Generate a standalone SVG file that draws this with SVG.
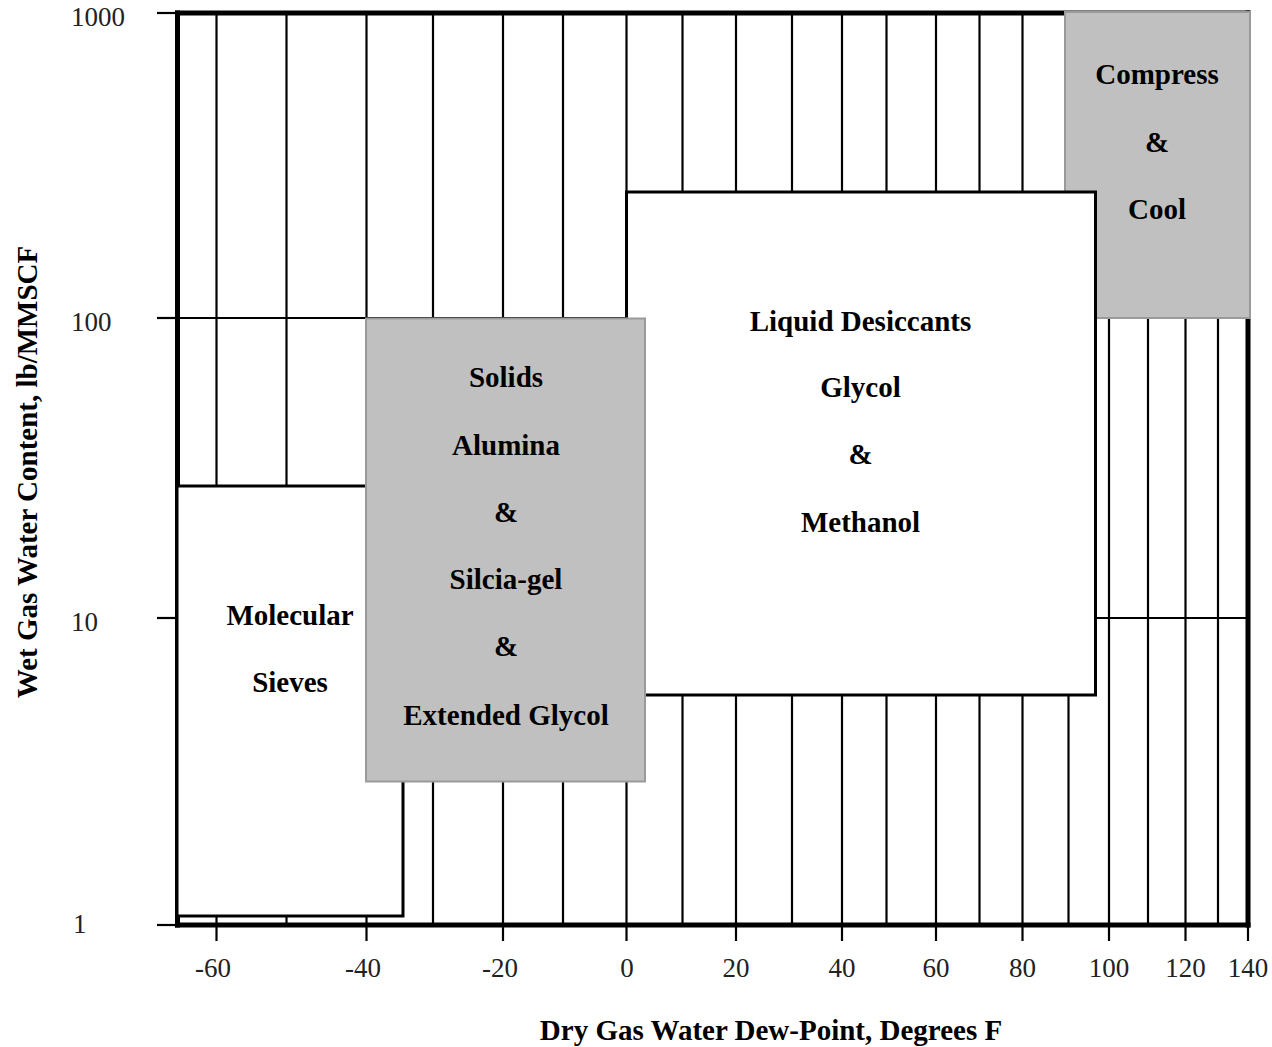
<svg xmlns="http://www.w3.org/2000/svg" width="1272" height="1047" viewBox="0 0 1272 1047">
<style>
.grid{stroke:#000;stroke-width:2.2;fill:none}
.frame{stroke:#000;stroke-width:5;fill:none;stroke-linecap:square}
.tick{stroke:#000;stroke-width:2.2}
.wbox{fill:#fff;stroke:#000;stroke-width:3}
.gbox{fill:#c0c0c0;stroke:#9a9a9a;stroke-width:2}
.lbl{font-family:"Liberation Serif","Times New Roman",serif;font-weight:bold;font-size:29px;fill:#000;text-anchor:middle}
.num{font-family:"Liberation Serif","Times New Roman",serif;font-size:27px;fill:#222}
.xn{text-anchor:middle}
</style>
<rect width="1272" height="1047" fill="#fff"/>
<g id="connectors">
<g id="vgrid" class="grid">
<line x1="216.5" y1="13" x2="216.5" y2="925"/>
<line x1="286.5" y1="13" x2="286.5" y2="925"/>
<line x1="366.5" y1="13" x2="366.5" y2="925"/>
<line x1="433" y1="13" x2="433" y2="925"/>
<line x1="503" y1="13" x2="503" y2="925"/>
<line x1="563" y1="13" x2="563" y2="925"/>
<line x1="626.5" y1="13" x2="626.5" y2="925"/>
<line x1="682.5" y1="13" x2="682.5" y2="925"/>
<line x1="736" y1="13" x2="736" y2="925"/>
<line x1="792" y1="13" x2="792" y2="925"/>
<line x1="842" y1="13" x2="842" y2="925"/>
<line x1="886.5" y1="13" x2="886.5" y2="925"/>
<line x1="936" y1="13" x2="936" y2="925"/>
<line x1="979.5" y1="13" x2="979.5" y2="925"/>
<line x1="1022.5" y1="13" x2="1022.5" y2="925"/>
<line x1="1068.5" y1="13" x2="1068.5" y2="925"/>
<line x1="1109" y1="13" x2="1109" y2="925"/>
<line x1="1148" y1="13" x2="1148" y2="925"/>
<line x1="1185.5" y1="13" x2="1185.5" y2="925"/>
<line x1="1218" y1="13" x2="1218" y2="925"/>
</g>
<g id="hgrid" class="grid">
<line x1="177" y1="318" x2="1248" y2="318"/>
<line x1="177" y1="618" x2="1248" y2="618"/>
</g>
<g id="ticks" class="tick">
<line x1="157" y1="13" x2="177" y2="13"/>
<line x1="157" y1="318" x2="177" y2="318"/>
<line x1="157" y1="618" x2="177" y2="618"/>
<line x1="157" y1="925" x2="177" y2="925"/>
<line x1="216.5" y1="925" x2="216.5" y2="941"/>
<line x1="366.5" y1="925" x2="366.5" y2="941"/>
<line x1="503" y1="925" x2="503" y2="941"/>
<line x1="626.5" y1="925" x2="626.5" y2="941"/>
<line x1="736" y1="925" x2="736" y2="941"/>
<line x1="842" y1="925" x2="842" y2="941"/>
<line x1="936" y1="925" x2="936" y2="941"/>
<line x1="1022.5" y1="925" x2="1022.5" y2="941"/>
<line x1="1109" y1="925" x2="1109" y2="941"/>
<line x1="1185.5" y1="925" x2="1185.5" y2="941"/>
<line x1="1248" y1="925" x2="1248" y2="941"/>
</g>
<g id="frame" class="frame">
<line x1="177.5" y1="13" x2="1248" y2="13"/>
<line x1="177.5" y1="13" x2="177.5" y2="925"/>
<line x1="177.5" y1="925" x2="1248" y2="925"/>
<line x1="1248" y1="13" x2="1248" y2="925"/>
</g>
</g>
<g id="molecular-sieves">
<rect class="wbox" x="177" y="486" width="226" height="430"/>
<text class="lbl" x="290" y="625">Molecular</text>
<text class="lbl" x="290" y="692">Sieves</text>
</g>
<g id="compress-cool">
<rect class="gbox" x="1065" y="12" width="185" height="306"/>
<text class="lbl" x="1157" y="84">Compress</text>
<text class="lbl" x="1157" y="152">&amp;</text>
<text class="lbl" x="1157" y="219">Cool</text>
</g>
<g id="liquid-desiccants">
<rect class="wbox" x="626.5" y="192" width="469" height="503"/>
<text class="lbl" x="860.5" y="331">Liquid Desiccants</text>
<text class="lbl" x="860.5" y="397">Glycol</text>
<text class="lbl" x="860.5" y="464">&amp;</text>
<text class="lbl" x="860.5" y="532">Methanol</text>
</g>
<g id="solids">
<rect class="gbox" x="366" y="318.5" width="279" height="463"/>
<text class="lbl" x="506" y="387">Solids</text>
<text class="lbl" x="506" y="455">Alumina</text>
<text class="lbl" x="506" y="522">&amp;</text>
<text class="lbl" x="506" y="589">Silcia-gel</text>
<text class="lbl" x="506" y="656">&amp;</text>
<text class="lbl" x="506" y="725">Extended Glycol</text>
</g>
<g id="y-axis-labels" class="num">
<text x="71" y="26">1000</text>
<text x="71" y="331">100</text>
<text x="71" y="631">10</text>
<text x="73" y="933">1</text>
</g>
<g id="x-axis-labels" class="num xn">
<text x="213" y="977">-60</text>
<text x="363" y="977">-40</text>
<text x="500" y="977">-20</text>
<text x="627" y="977">0</text>
<text x="736" y="977">20</text>
<text x="842" y="977">40</text>
<text x="936" y="977">60</text>
<text x="1022.5" y="977">80</text>
<text x="1109" y="977">100</text>
<text x="1185.5" y="977">120</text>
<text x="1248" y="977">140</text>
</g>
<g id="titles">
<text class="lbl" x="771" y="1040">Dry Gas Water Dew-Point, Degrees F</text>
<text class="lbl" transform="translate(37,472) rotate(-90)">Wet Gas Water Content, lb/MMSCF</text>
</g>
</svg>
